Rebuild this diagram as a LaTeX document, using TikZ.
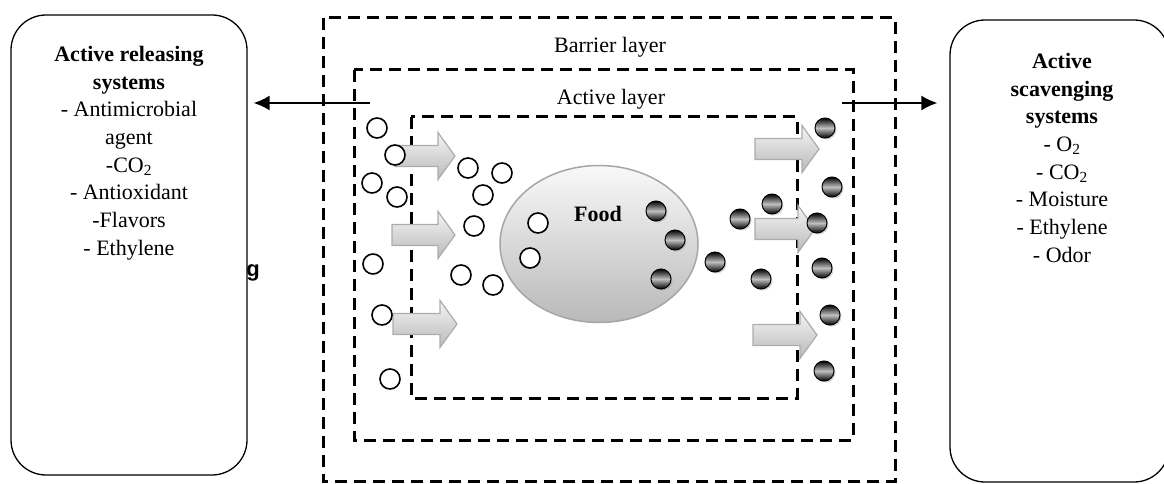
\documentclass[tikz,border=0pt]{standalone}
\usepackage{fontspec}
\setmainfont{Liberation Serif}
\newfontfamily\gsans{Liberation Sans}
\usetikzlibrary{arrows.meta,shadows,shapes.geometric}
\tikzset{
 layer/.style={draw=black, line width=3pt, dash pattern=on 12pt off 7pt},
 sysbox/.style={draw=black, line width=1.3pt, rounded corners=35pt},
 systext/.style={align=center, inner sep=0pt, anchor=north, font=\fontsize{22}{27.7}\selectfont},
 laytext/.style={inner sep=0pt, anchor=base, font=\fontsize{22}{26}\selectfont},
 opencirc/.style={circle, draw=black, line width=1.6pt, fill=white, minimum size=20pt, inner sep=0pt},
 darkcirc/.style={circle, draw=black, line width=1pt, top color=black, bottom color=black, middle color=gray!50, minimum size=20pt, inner sep=0pt, drop shadow={shadow xshift=1.5pt, shadow yshift=-1.5pt, opacity=0.35}},
 blockarrow/.style={draw=gray!65, line width=1.2pt, top color=gray!8, bottom color=gray!55},
 flow/.style={line width=1.6pt, -{Latex[length=16pt,width=15pt]}},
}
\newcommand\blockarr[3]{%
 \path[blockarrow] (#1,#2-10.5) -- (#3-17,#2-10.5) -- (#3-17,#2-23.5) -- (#3,#2) -- (#3-17,#2+23.5) -- (#3-17,#2+10.5) -- (#1,#2+10.5) -- cycle;}
\begin{document}
\begin{tikzpicture}[x=1pt,y=-1pt]
\useasboundingbox (0,0) rectangle (1164,484);
% system boxes
\node[sysbox, minimum width=236pt, minimum height=460pt, inner sep=0pt] (relbox) at (129,245) {};
\node[sysbox, minimum width=219pt, minimum height=462pt, inner sep=0pt] (scavbox) at (1059.5,251) {};
\node[systext] (reltext) at (129,46) {\textbf{Active releasing}\\\textbf{systems}\\- Antimicrobial\\agent\\-CO\textsubscript{2}\\- Antioxidant\\-Flavors\\- Ethylene};
\node[systext] (scavtext) at (1062,53) {\textbf{Active}\\\textbf{scavenging}\\\textbf{systems}\\- O\textsubscript{2}\\- CO\textsubscript{2}\\- Moisture\\- Ethylene\\- Odor};
\node[inner sep=0pt, anchor=base, font=\gsans\bfseries\fontsize{22}{26}\selectfont] (gchar) at (253,276) {g};
% layers
\path[layer] (323,18) rectangle (895,481);
\path[layer] (354,70) rectangle (853,440);
\path[layer] (411,117) rectangle (797,398);
\node[laytext] (barrier) at (610,53) {Barrier layer};
\node[laytext] (active) at (611,105) {Active layer};
% flows
\coordinate (lstart) at (370,103);
\coordinate (rstart) at (842,103);
\draw[flow, shorten >=6pt] (lstart) -- (lstart -| relbox.east);
\draw[flow, shorten >=12pt] (rstart) -- (rstart -| scavbox.west);
% food
\node[ellipse, minimum width=198pt, minimum height=157pt, draw=gray!70, line width=1.5pt, top color=gray!5, bottom color=gray!55, inner sep=0pt] (food) at (599,244) {};
\node[font=\bfseries\fontsize{22}{26}\selectfont, inner sep=0pt] (foodtext) at (598,214) {Food};
% block arrows
\blockarr{395}{156}{455}
\blockarr{392}{235}{455}
\blockarr{393}{324}{457}
\blockarr{755}{149}{819}
\blockarr{755}{229}{815}
\blockarr{753}{335}{817}
% open circles
\foreach \px/\py [count=\i] in {377/128,395/155,372/183,397/197,468/168,502/173,483/195,474/226,538/223,530/258,373/264,461/275,493/285,382/315,390/379}
  \node[opencirc] (o\i) at (\px,\py) {};
% dark circles
\foreach \px/\py [count=\i] in {825/128,832/187,772/204,740/219,817/223,656/211,675/240,715/262,661/279,761/279,822/268,830/315,824/371}
  \node[darkcirc] (d\i) at (\px,\py) {};
\end{tikzpicture}
\end{document}
